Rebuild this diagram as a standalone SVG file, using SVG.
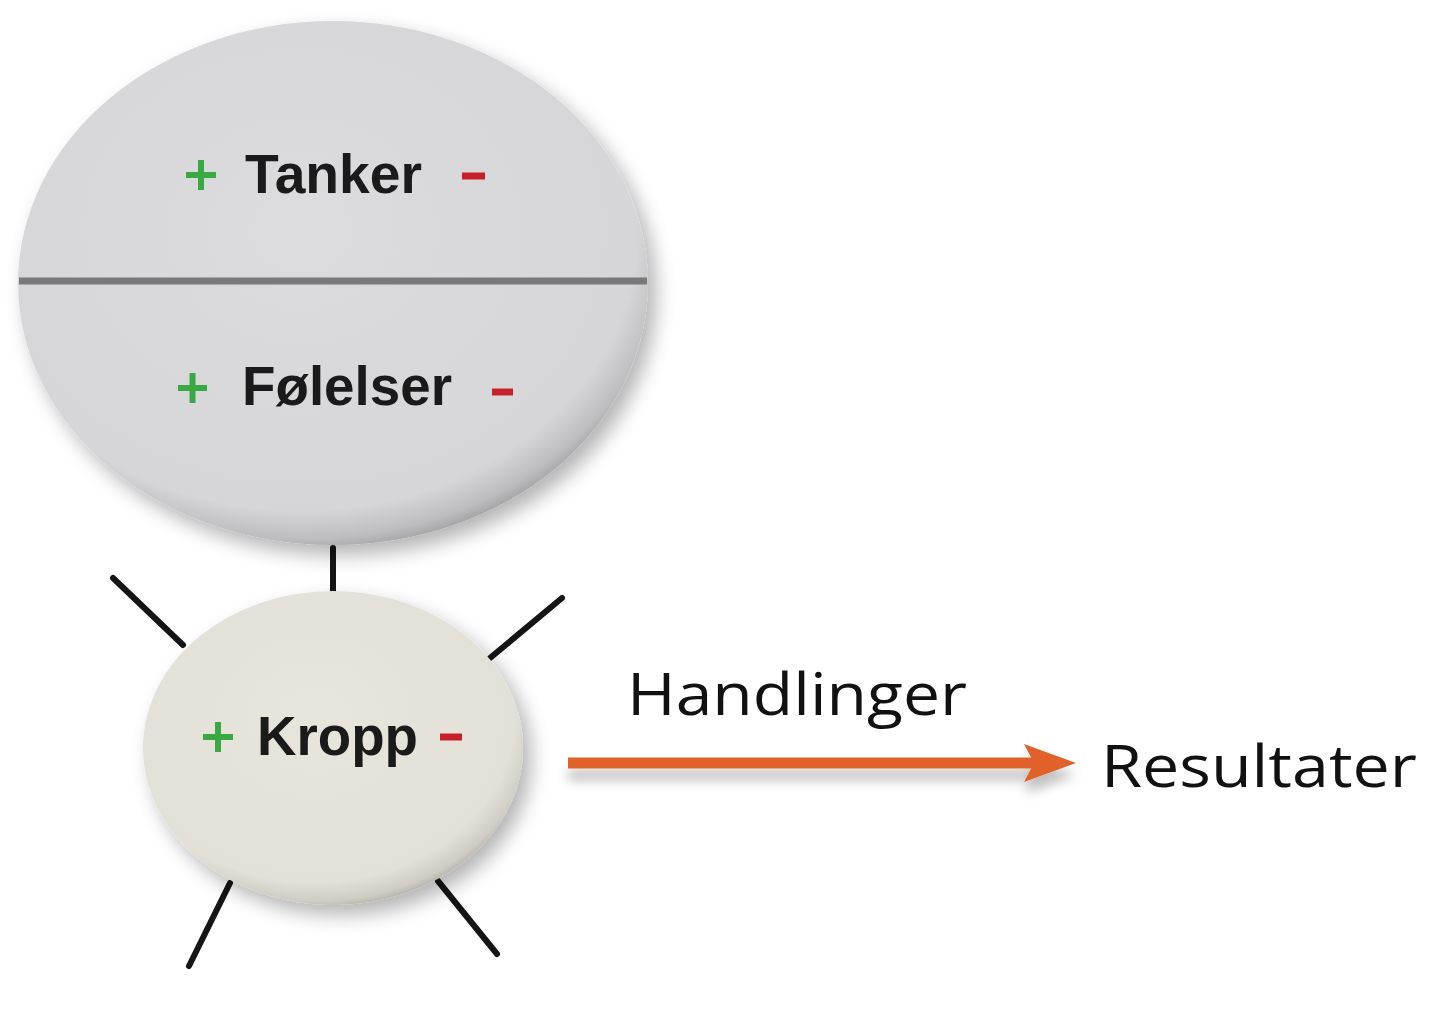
<svg xmlns="http://www.w3.org/2000/svg" width="1432" height="1018" viewBox="0 0 1432 1018">
<defs>
<style>
.lbl{font-family:"Liberation Sans","Open Sans",sans-serif;font-weight:bold;fill:#1a1a1a}
.txt{font-family:"Open Sans","Liberation Sans",sans-serif;fill:#111}
.plus{stroke:#3aa843;stroke-width:6}
.minus{stroke:#c8202a;stroke-width:7}
.ray{stroke:#151515;stroke-width:6;stroke-linecap:round}
</style>
<radialGradient id="gTop" cx="0.45" cy="0.4" r="0.62">
<stop offset="0" stop-color="#dcdcde"/>
<stop offset="0.86" stop-color="#d6d6d8"/>
<stop offset="0.95" stop-color="#bdbdbf"/>
<stop offset="1" stop-color="#9d9d9f"/>
</radialGradient>
<radialGradient id="gK" cx="0.45" cy="0.4" r="0.62">
<stop offset="0" stop-color="#e8e5dd"/>
<stop offset="0.85" stop-color="#e3e0d7"/>
<stop offset="0.95" stop-color="#cfccc3"/>
<stop offset="1" stop-color="#b0ada5"/>
</radialGradient>
<filter id="sh" x="-20%" y="-20%" width="140%" height="140%">
<feGaussianBlur in="SourceAlpha" stdDeviation="10"/>
<feOffset dx="8" dy="10" result="b"/>
<feComponentTransfer><feFuncA type="linear" slope="0.3"/></feComponentTransfer>
<feMerge><feMergeNode/><feMergeNode in="SourceGraphic"/></feMerge>
</filter>
<filter id="ash" x="-10%" y="-100%" width="120%" height="400%">
<feGaussianBlur in="SourceAlpha" stdDeviation="6"/>
<feOffset dx="0" dy="12" result="b"/>
<feComponentTransfer><feFuncA type="linear" slope="0.25"/></feComponentTransfer>
<feMerge><feMergeNode/><feMergeNode in="SourceGraphic"/></feMerge>
</filter>
</defs>
<rect width="1432" height="1018" fill="#ffffff"/>
<g id="connectors">
<line class="ray" x1="333" y1="548" x2="333" y2="592"/>
<line class="ray" x1="113" y1="578" x2="183" y2="645"/>
<line class="ray" x1="562" y1="598" x2="490" y2="658"/>
<line class="ray" x1="230" y1="883" x2="189" y2="966"/>
<line class="ray" x1="438" y1="881" x2="497" y2="954"/>
<g filter="url(#ash)">
<line x1="568" y1="763" x2="1036" y2="763" stroke="#e0622a" stroke-width="11"/>
<polygon points="1024,744 1076,763 1024,782 1034,763" fill="#e0622a"/>
</g>
</g>
<g id="node-tanker-folelser">
<ellipse cx="333" cy="283" rx="315" ry="262" fill="url(#gTop)" filter="url(#sh)"/>
<line x1="19" y1="281" x2="647" y2="281" stroke="#7a7878" stroke-width="7"/>
<line class="plus" x1="186" y1="175" x2="216" y2="175"/>
<line class="plus" x1="201" y1="160" x2="201" y2="190"/>
<text class="lbl" x="245" y="193" font-size="56" textLength="177" lengthAdjust="spacingAndGlyphs">Tanker</text>
<line class="minus" x1="462" y1="176" x2="485" y2="176"/>
<line class="plus" x1="178" y1="388" x2="207" y2="388"/>
<line class="plus" x1="192.5" y1="373" x2="192.5" y2="403"/>
<text class="lbl" x="242" y="405" font-size="56" textLength="210" lengthAdjust="spacingAndGlyphs">Følelser</text>
<line class="minus" x1="492" y1="392" x2="513" y2="392"/>
</g>
<g id="node-kropp">
<ellipse cx="333" cy="748" rx="190" ry="157" fill="url(#gK)" filter="url(#sh)"/>
<line class="plus" x1="203" y1="737" x2="233" y2="737"/>
<line class="plus" x1="218" y1="722" x2="218" y2="752"/>
<text class="lbl" x="257" y="755" font-size="56" textLength="161" lengthAdjust="spacingAndGlyphs">Kropp</text>
<line class="minus" x1="440" y1="737" x2="462" y2="737"/>
</g>
<g id="labels">
<text class="txt" x="627" y="715" font-size="59" textLength="340" lengthAdjust="spacingAndGlyphs">Handlinger</text>
<text class="txt" x="1101" y="787" font-size="59" textLength="316" lengthAdjust="spacingAndGlyphs">Resultater</text>
</g>
</svg>
